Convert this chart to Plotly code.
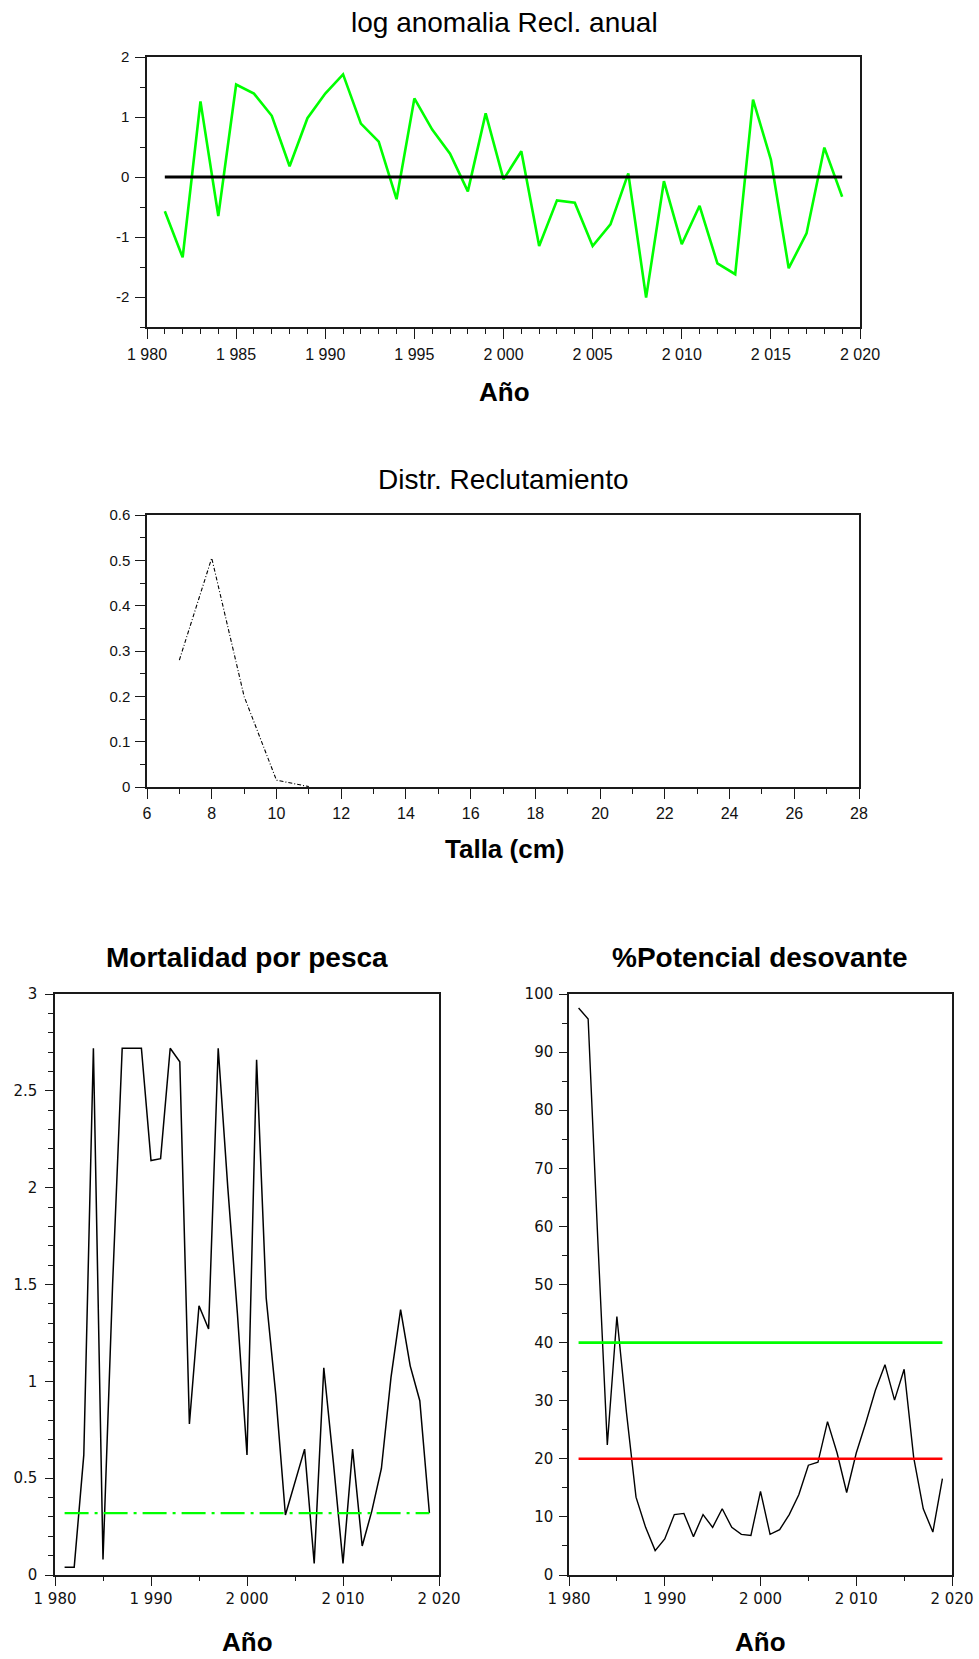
import plotly.graph_objects as go

# ---------------- data ----------------
years = list(range(1981, 2020))

log_anomalia = [-0.57, -1.34, 1.26, -0.65, 1.54, 1.39, 1.02, 0.18, 0.98, 1.39,
                1.71, 0.89, 0.59, -0.37, 1.31, 0.79, 0.39, -0.24, 1.06, -0.04,
                0.43, -1.15, -0.39, -0.43, -1.15, -0.79, 0.06, -2.01, -0.07, -1.12,
                -0.48, -1.44, -1.62, 1.29, 0.29, -1.52, -0.94, 0.49, -0.33]
linea_cero = [0.0] * len(years)

tallas = [7, 8, 9, 10, 11]
distr_recl = [0.28, 0.505, 0.2, 0.015, 0.001]

mortalidad = [0.04, 0.04, 0.62, 2.72, 0.08, 1.5, 2.72, 2.72, 2.72, 2.14,
              2.15, 2.72, 2.65, 0.78, 1.39, 1.27, 2.72, 2.0, 1.35, 0.62,
              2.66, 1.43, 0.93, 0.31, 0.48, 0.65, 0.06, 1.07, 0.58, 0.06,
              0.65, 0.15, 0.33, 0.55, 1.02, 1.37, 1.08, 0.9, 0.32]
f_ref = [0.32] * len(years)

potencial = [97.6, 95.7, 58.0, 22.4, 44.5, 28.0, 13.4, 8.2, 4.2, 6.2,
             10.4, 10.6, 6.6, 10.4, 8.2, 11.4, 8.2, 7.0, 6.8, 14.4,
             7.0, 7.8, 10.4, 13.8, 18.9, 19.4, 26.4, 21.0, 14.2, 21.0,
             26.2, 31.8, 36.2, 30.1, 35.4, 20.2, 11.4, 7.4, 16.6]
objetivo_40 = [40] * len(years)
limite_20 = [20] * len(years)

# tick labels
ticks_anio_5 = [1980, 1985, 1990, 1995, 2000, 2005, 2010, 2015, 2020]
labels_anio_5 = ["1 980", "1 985", "1 990", "1 995", "2 000", "2 005", "2 010", "2 015", "2 020"]
ticks_anio_10 = [1980, 1990, 2000, 2010, 2020]
labels_anio_10 = ["1 980", "1 990", "2 000", "2 010", "2 020"]
ticks_talla = [6, 8, 10, 12, 14, 16, 18, 20, 22, 24, 26, 28]
ticks_anom = [-2, -1, 0, 1, 2]
ticks_distr = [0, 0.1, 0.2, 0.3, 0.4, 0.5, 0.6]
labels_distr = ["0", "0.1", "0.2", "0.3", "0.4", "0.5", "0.6"]
ticks_f = [0, 0.5, 1, 1.5, 2, 2.5, 3]
labels_f = ["0", "0.5", "1", "1.5", "2", "2.5", "3"]
ticks_pot = [0, 10, 20, 30, 40, 50, 60, 70, 80, 90, 100]

# ---------------- layout helpers ----------------
W, H = 979, 1659


def px_x(p):
    return p / W


def px_y(p):
    return 1 - p / H


ARIAL = "Liberation Sans, Arial, sans-serif"
DEJAVU = "DejaVu Sans, Verdana, sans-serif"
AXC = "#1a1a1a"

fig = go.Figure()

# top: log anomaly
fig.add_trace(go.Scatter(x=years, y=log_anomalia, mode="lines",
                         line=dict(color="#00ff00", width=2.6), xaxis="x", yaxis="y"))
fig.add_trace(go.Scatter(x=years, y=linea_cero, mode="lines",
                         line=dict(color="black", width=3), xaxis="x", yaxis="y"))

# recruitment size distribution
fig.add_trace(go.Scatter(x=tallas, y=distr_recl, mode="lines",
                         line=dict(color="black", width=1.1, dash="4px,2px,1px,2px"),
                         xaxis="x2", yaxis="y2"))

# fishing mortality
fig.add_trace(go.Scatter(x=years, y=mortalidad, mode="lines",
                         line=dict(color="black", width=1.5), xaxis="x3", yaxis="y3"))
fig.add_trace(go.Scatter(x=years, y=f_ref, mode="lines",
                         line=dict(color="#00ff00", width=2.2, dash="24px,6px,3px,6px"),
                         xaxis="x3", yaxis="y3"))

# spawning potential
fig.add_trace(go.Scatter(x=years, y=potencial, mode="lines",
                         line=dict(color="black", width=1.4), xaxis="x4", yaxis="y4"))
fig.add_trace(go.Scatter(x=years, y=objetivo_40, mode="lines",
                         line=dict(color="#00ff00", width=2.6), xaxis="x4", yaxis="y4"))
fig.add_trace(go.Scatter(x=years, y=limite_20, mode="lines",
                         line=dict(color="#ff0000", width=2.6), xaxis="x4", yaxis="y4"))


def axis(domain, rng, tickvals, ticktext, minor_dtick, ticklen, minorlen, font, size,
         standoff, anchor):
    d = dict(domain=domain, range=rng, tickmode="array", tickvals=tickvals,
             ticktext=ticktext, ticks="outside", ticklen=ticklen, tickwidth=1.4,
             tickcolor=AXC, showline=True, linecolor=AXC, linewidth=1.5, mirror=True,
             showgrid=False, zeroline=False, anchor=anchor, automargin=False,
             tickfont=dict(family=font, size=size, color="#111"),
             ticklabelstandoff=standoff,
             minor=dict(ticks="outside", ticklen=minorlen, tickwidth=1.2, tickcolor=AXC,
                        dtick=minor_dtick, tick0=0, showgrid=False))
    return d


top_x = [px_x(147), px_x(860)]
top_y = [px_y(327), px_y(57)]
mid_x = [px_x(147), px_x(859)]
mid_y = [px_y(787), px_y(515)]
bl_x = [px_x(55), px_x(439)]
br_x = [px_x(569), px_x(952)]
bot_y = [px_y(1575), px_y(994)]

fig.update_layout(
    width=W, height=H, margin=dict(l=0, r=0, t=0, b=0, autoexpand=False),
    paper_bgcolor="white", plot_bgcolor="white", showlegend=False,
    xaxis=axis(top_x, [1980, 2020], ticks_anio_5, labels_anio_5, 1, 10, 5, ARIAL, 16, 2, "y"),
    yaxis=axis(top_y, [-2.5, 2], ticks_anom, [str(v) for v in ticks_anom], 0.5, 10, 5, ARIAL, 15, 3, "x"),
    xaxis2=axis(mid_x, [6, 28], ticks_talla, [str(v) for v in ticks_talla], 1, 10, 5, ARIAL, 16, 1, "y2"),
    yaxis2=axis(mid_y, [0, 0.6], ticks_distr, labels_distr, 0.05, 10, 5, ARIAL, 15, 2, "x2"),
    xaxis3=axis(bl_x, [1980, 2020], ticks_anio_10, labels_anio_10, 5, 9, 4, DEJAVU, 15, 0, "y3"),
    yaxis3=axis(bot_y, [0, 3], ticks_f, labels_f, 0.1, 8, 5, DEJAVU, 15, 5, "x3"),
    xaxis4=axis(br_x, [1980, 2020], ticks_anio_10, labels_anio_10, 5, 9, 4, DEJAVU, 15, 0, "y4"),
    yaxis4=axis(bot_y, [0, 100], ticks_pot, [str(v) for v in ticks_pot], 5, 8, 5, DEJAVU, 15, 3, "x4"),
)


def label(text, cx, cy, size, bold=False):
    fig.add_annotation(text=f"<b>{text}</b>" if bold else text,
                       x=px_x(cx), y=px_y(cy), xref="paper", yref="paper",
                       xanchor="center", yanchor="middle", showarrow=False,
                       font=dict(family=ARIAL, size=size, color="black"))


label("log anomalia Recl. anual", 504, 22, 28)
label("Año", 504, 392, 26, bold=True)
label("Distr. Reclutamiento", 503, 480, 28)
label("Talla (cm)", 504, 849, 26, bold=True)
label("Mortalidad por pesca", 247, 958, 28, bold=True)
label("%Potencial desovante", 760, 958, 28, bold=True)
label("Año", 247, 1642, 26, bold=True)
label("Año", 760, 1642, 26, bold=True)

fig.write_html("out.html")
